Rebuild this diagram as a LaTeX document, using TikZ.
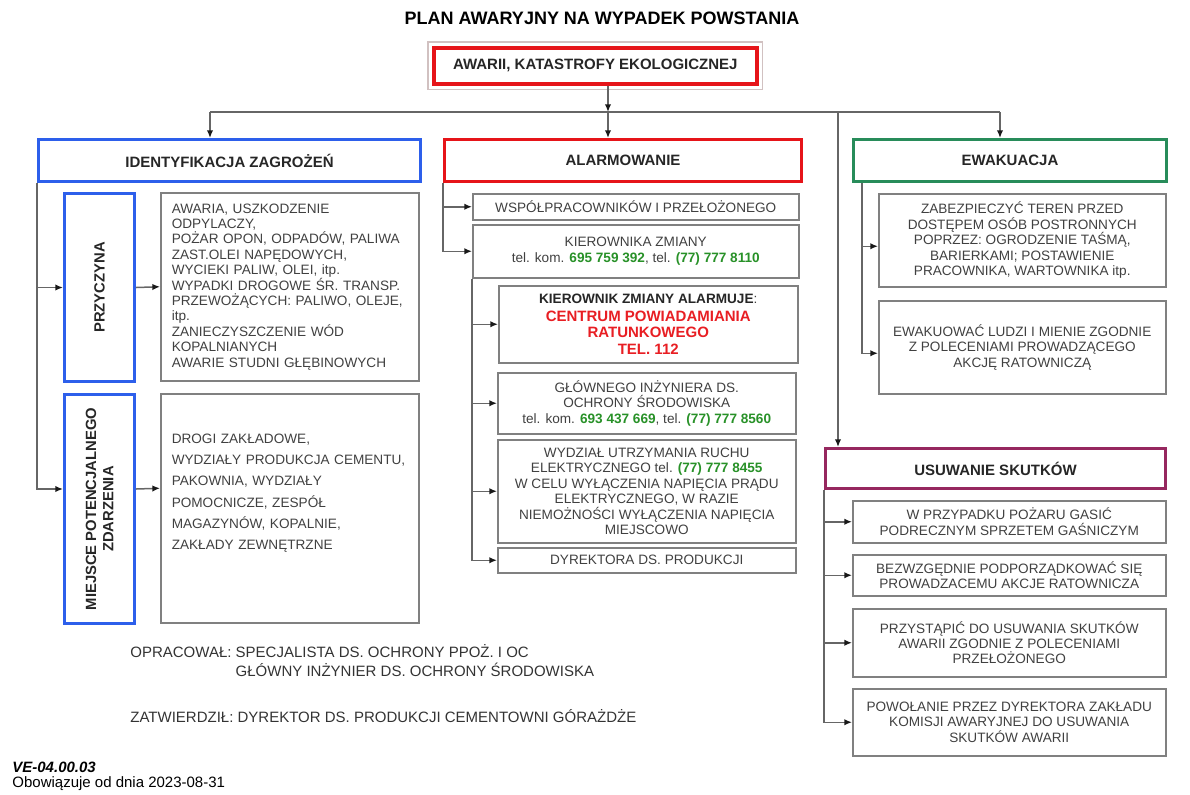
\documentclass[tikz,border=0pt]{standalone}
\usepackage{fontspec}
\setmainfont{Liberation Sans}
\usetikzlibrary{arrows.meta, positioning}
\definecolor{identblue}{RGB}{45,95,235}
\definecolor{alarmred}{RGB}{230,20,25}
\definecolor{ewakgreen}{RGB}{40,140,90}
\definecolor{usuwplum}{RGB}{150,40,95}
\definecolor{telgreen}{RGB}{40,145,40}
\definecolor{ratred}{RGB}{232,30,35}
\newcommand\bodyfont{\fontsize{6.8}{7.7}\selectfont}
\newcommand\headfont{\bfseries\fontsize{7.5}{9}\selectfont}
\newcommand\sidefont{\bfseries\fontsize{7.4}{8.6}\selectfont}
\newcommand\footfont{\fontsize{7.5}{8.5}\selectfont}
\newcommand\phonenr[1]{{\bfseries\color{telgreen}#1}}
\newcommand\rescueline[1]{{\bfseries\color{ratred}\fontsize{7.5}{8.3}\selectfont #1}}
\tikzset{
  px/.style 2 args={minimum width=#1*0.5pt, minimum height=#2*0.5pt},
  headbox/.style={draw=#1, line width=1.5pt, anchor=north west, inner sep=0pt, font=\headfont, text=black!85},
  sidebox/.style={draw=identblue, line width=1.5pt, anchor=north west, inner sep=0pt},
  infobox/.style={draw=black!50, line width=0.75pt, anchor=north west, inner sep=2pt, align=center, font=\bodyfont, text=black!75},
  listbox/.style={infobox, align=left, text width=118pt, inner xsep=5.5pt},
  foot/.style={anchor=west, inner sep=0pt, font=\footfont, text=black!80},
  wire/.style={draw=black!60, line width=0.75pt},
  conn/.style={wire, -{Latex[length=3.8pt,width=3.2pt,black!90]}}
}
\begin{document}
\begin{tikzpicture}[x=0.5pt, y=-0.5pt]
    \useasboundingbox (0,0) rectangle (1190,794);

    % Title and starting event
    \node[font=\bfseries\fontsize{9}{10}\selectfont] (title) at (602,18) {PLAN AWARYJNY NA WYPADEK POWSTANIA};
    \node[headbox=alarmred, px={323}{36}, line width=1.8pt] (top) at (432,46) {AWARII, KATASTROFY EKOLOGICZNEJ};
    \draw[alarmred!30!black!25, line width=0.6pt] ([shift={(-4,-4)}]top.north west) rectangle ([shift={(4,4)}]top.south east);

    % Main branches
    \node[headbox=identblue, px={382}{42}] (ident) at (37,138) {IDENTYFIKACJA ZAGROŻEŃ};
    \node[headbox=alarmred, px={357}{42}] (alarm) at (443,138) {ALARMOWANIE};
    \node[headbox=ewakgreen, px={313}{42}] (ewak) at (852,138) {EWAKUACJA};
    \node[headbox=usuwplum, px={340}{40}] (usuw) at (824,447) {USUWANIE SKUTKÓW};

    % Distribution bus
    \coordinate (busL) at (210,112);
    \coordinate (busM) at (608,112);
    \coordinate (busU) at (838,112);
    \coordinate (busE) at (1000,112);
    \draw[conn] (top.south -| busM) -- (busM);
    \draw[wire] (busL) -- (busE);
    \draw[conn] (busL) -- (busL |- ident.north);
    \draw[conn] (busM) -- (busM |- alarm.north);
    \draw[conn] (busE) -- (busE |- ewak.north);
    \draw[conn] (busU) -- (busU |- usuw.north);

    % Identification
    \node[sidebox, px={70}{188}, label={[rotate=90, font=\sidefont, text=black!85]center:PRZYCZYNA}] (przyczyna) at (63,192) {};
    \node[sidebox, px={70}{229}, label={[rotate=90, font=\sidefont, text=black!85, align=center]center:MIEJSCE POTENCJALNEGO\\ZDARZENIA}] (miejsce) at (63,393) {};
    \node[listbox, px={258}{188}] (przyczynaText) at (160,192) {AWARIA, USZKODZENIE\\ODPYLACZY,\\POŻAR OPON, ODPADÓW, PALIWA\\ZAST.OLEI NAPĘDOWYCH,\\WYCIEKI PALIW, OLEI, itp.\\WYPADKI DROGOWE ŚR. TRANSP.\\PRZEWOŻĄCYCH: PALIWO, OLEJE,\\itp.\\ZANIECZYSZCZENIE WÓD\\KOPALNIANYCH\\AWARIE STUDNI GŁĘBINOWYCH};
    \node[listbox, px={258}{229}, font=\fontsize{6.8}{10.6}\selectfont, inner ysep=6pt] (miejsceText) at (160,393) {DROGI ZAKŁADOWE,\\WYDZIAŁY PRODUKCJA CEMENTU,\\PAKOWNIA, WYDZIAŁY\\POMOCNICZE, ZESPÓŁ\\MAGAZYNÓW, KOPALNIE,\\ZAKŁADY ZEWNĘTRZNE\\[6pt]\mbox{}};
    \draw[conn] (ident.south west) |- (przyczyna.west);
    \draw[conn] (ident.south west) |- ([yshift=10pt]miejsce.west);
    \draw[conn] (przyczyna.east) -- (przyczynaText.west);
    \draw[conn] ([yshift=10pt]miejsce.east) -- ([yshift=10pt]miejsceText.west);

    % Alarm chain
    \node[infobox, px={326}{26}] (wspol) at (472,193) {WSPÓŁPRACOWNIKÓW I PRZEŁOŻONEGO};
    \node[infobox, px={326}{53}] (kier) at (472,224) {KIEROWNIKA ZMIANY\\tel. kom. \phonenr{695 759 392}, tel. \phonenr{(77) 777 8110}};
    \node[infobox, px={299}{77}] (centrum) at (498,285) {\textbf{\textcolor{black!85}{KIEROWNIK ZMIANY ALARMUJE}}:\\[1pt]\rescueline{CENTRUM POWIADAMIANIA}\\[0.6pt]\rescueline{RATUNKOWEGO}\\[0.6pt]\rescueline{TEL. 112}};
    \node[infobox, px={298}{61}] (glowny) at (497,372) {GŁÓWNEGO INŻYNIERA DS.\\OCHRONY ŚRODOWISKA\\tel. kom. \phonenr{693 437 669}, tel. \phonenr{(77) 777 8560}};
    \node[infobox, px={298}{103}] (wydzial) at (497,439) {WYDZIAŁ UTRZYMANIA RUCHU\\ELEKTRYCZNEGO tel. \phonenr{(77) 777 8455}\\W CELU WYŁĄCZENIA NAPIĘCIA PRĄDU\\ELEKTRYCZNEGO, W RAZIE\\NIEMOŻNOŚCI WYŁĄCZENIA NAPIĘCIA\\MIEJSCOWO};
    \node[infobox, px={298}{25}] (dyrektor) at (497,547) {DYREKTORA DS. PRODUKCJI};
    \draw[conn] (alarm.south west) |- (wspol.west);
    \draw[conn] (alarm.south west) |- (kier.west);
    \foreach \t in {centrum, glowny, wydzial, dyrektor}
        \draw[conn] (kier.south west) |- (\t.west);

    % Evacuation
    \node[infobox, px={287}{93}] (zabez) at (878,193) {ZABEZPIECZYĆ TEREN PRZED\\DOSTĘPEM OSÓB POSTRONNYCH\\POPRZEZ: OGRODZENIE TAŚMĄ,\\BARIERKAMI; POSTAWIENIE\\PRACOWNIKA, WARTOWNIKA itp.};
    \node[infobox, px={287}{93}] (ewakuowac) at (878,300) {EWAKUOWAĆ LUDZI I MIENIE ZGODNIE\\Z POLECENIAMI PROWADZĄCEGO\\AKCJĘ RATOWNICZĄ};
    \foreach \t in {zabez, ewakuowac}
        \draw[conn] ([xshift=5pt]ewak.south west) |- ([yshift=-3pt]\t.west);

    % Removing the effects
    \node[infobox, px={313}{42}] (gasic) at (852,500) {W PRZYPADKU POŻARU GASIĆ\\PODRECZNYM SPRZETEM GAŚNICZYM};
    \node[infobox, px={313}{41}] (podporz) at (852,554) {BEZWZGĘDNIE PODPORZĄDKOWAĆ SIĘ\\PROWADZACEMU AKCJE RATOWNICZA};
    \node[infobox, px={313}{68}] (przystapic) at (852,608) {PRZYSTĄPIĆ DO USUWANIA SKUTKÓW\\AWARII ZGODNIE Z POLECENIAMI\\PRZEŁOŻONEGO};
    \node[infobox, px={313}{67}] (powolanie) at (852,688) {POWOŁANIE PRZEZ DYREKTORA ZAKŁADU\\KOMISJI AWARYJNEJ DO USUWANIA\\SKUTKÓW AWARII};
    \foreach \t in {gasic, podporz, przystapic, powolanie}
        \draw[conn] (usuw.south west) |- (\t.west);

    % Signatures and footer
    \node[foot] (oprac) at (130,663) {\begin{tabular}{@{}l@{ }l@{}}OPRACOWAŁ: & SPECJALISTA DS. OCHRONY PPOŻ. I OC\\ & GŁÓWNY INŻYNIER DS. OCHRONY ŚRODOWISKA\end{tabular}};
    \node[foot] (zatw) at (130,716) {ZATWIERDZIŁ: DYREKTOR DS. PRODUKCJI CEMENTOWNI GÓRAŻDŻE};
    \node[foot, font=\bfseries\itshape\footfont, text=black] (symbol) at (12,767) {VE-04.00.03};
    \node[foot, text=black] (valid) at (12,784) {Obowiązuje od dnia 2023-08-31};
\end{tikzpicture}
\end{document}
